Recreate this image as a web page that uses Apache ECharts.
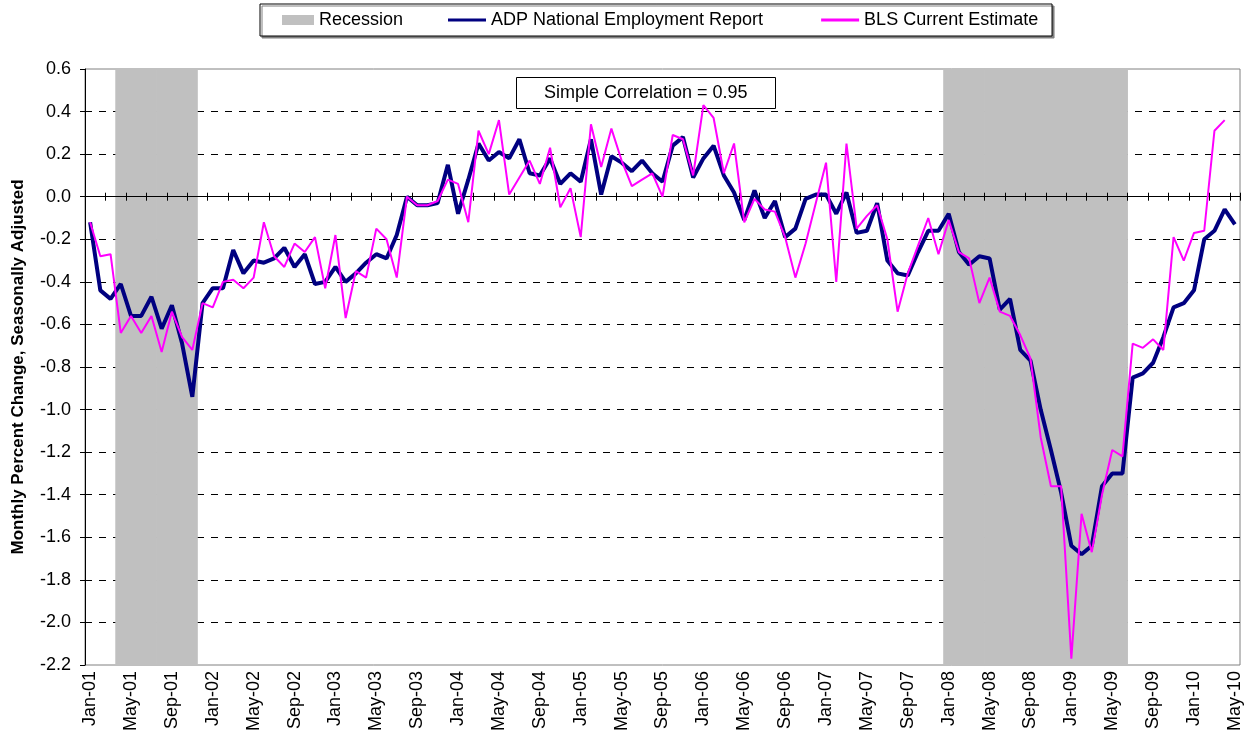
<!DOCTYPE html>
<html lang="en">
<head>
  <meta charset="utf-8">
  <title>ADP vs BLS employment</title>
  <script src="https://cdn.jsdelivr.net/npm/echarts@6.0.0/dist/echarts.min.js"></script>
  <style type="text/css">
    html, body { margin: 0; padding: 0; background: #fff; }
    #chart { width: 1249px; height: 746px; }
  </style>
</head>
<body>
<div id="chart"></div>
<script type="text/javascript">
// month labels Jan-01 .. May-10
var monthNames = ['Jan','Feb','Mar','Apr','May','Jun','Jul','Aug','Sep','Oct','Nov','Dec'];
var years = ['01','02','03','04','05','06','07','08','09','10'];
var lastLabel = 'May-10';

var months = [];
for (var y = 0; y < years.length; y++) {
  for (var m = 0; m < 12; m++) {
    months.push(monthNames[m] + '-' + years[y]);
    if (months[months.length - 1] === lastLabel) break;
  }
}

// recession periods (first and last month shaded)
var recessions = [['Apr-01', 'Nov-01'], ['Jan-08', 'Jun-09']];

// ADP National Employment Report, monthly % change
var adp = [
  -0.12, -0.44, -0.48, -0.41, -0.56, -0.56, -0.47, -0.62, -0.51, -0.69, -0.94, -0.50,
  -0.43, -0.43, -0.25, -0.36, -0.30, -0.31, -0.29, -0.24, -0.33, -0.27, -0.41, -0.40,
  -0.33, -0.40, -0.36, -0.31, -0.27, -0.29, -0.18, 0.00, -0.04, -0.04, -0.03, 0.15,
  -0.08, 0.08, 0.25, 0.17, 0.21, 0.18, 0.27, 0.11, 0.10, 0.18, 0.06, 0.11,
  0.07, 0.27, 0.01, 0.19, 0.16, 0.12, 0.17, 0.11, 0.07, 0.24, 0.28, 0.09,
  0.18, 0.24, 0.10, 0.02, -0.11, 0.03, -0.10, -0.02, -0.19, -0.15, -0.01, 0.01,
  0.01, -0.08, 0.02, -0.17, -0.16, -0.03, -0.30, -0.36, -0.37, -0.26, -0.16, -0.16,
  -0.08, -0.26, -0.32, -0.28, -0.29, -0.53, -0.48, -0.72, -0.77, -1.00, -1.19, -1.39,
  -1.64, -1.68, -1.64, -1.36, -1.30, -1.30, -0.85, -0.83, -0.78, -0.66, -0.52, -0.50,
  -0.44, -0.20, -0.16, -0.06, -0.13
];

// BLS Current Estimate, monthly % change (ends Apr-10)
var bls = [
  -0.12, -0.28, -0.27, -0.64, -0.56, -0.64, -0.56, -0.73, -0.54, -0.66, -0.72, -0.50,
  -0.52, -0.40, -0.39, -0.43, -0.38, -0.12, -0.28, -0.33, -0.22, -0.26, -0.19, -0.43,
  -0.18, -0.57, -0.35, -0.38, -0.15, -0.20, -0.38, 0.00, -0.04, -0.04, -0.02, 0.08,
  0.06, -0.12, 0.31, 0.20, 0.36, 0.01, 0.09, 0.17, 0.06, 0.23, -0.05, 0.04,
  -0.19, 0.34, 0.14, 0.32, 0.17, 0.05, 0.08, 0.11, 0.00, 0.29, 0.27, 0.10,
  0.43, 0.37, 0.11, 0.25, -0.12, -0.01, -0.06, -0.07, -0.19, -0.38, -0.22, -0.03,
  0.16, -0.40, 0.25, -0.15, -0.09, -0.04, -0.20, -0.54, -0.36, -0.23, -0.10, -0.27,
  -0.11, -0.26, -0.29, -0.50, -0.38, -0.54, -0.56, -0.65, -0.76, -1.13, -1.36, -1.36,
  -2.17, -1.49, -1.67, -1.40, -1.19, -1.22, -0.69, -0.71, -0.67, -0.72, -0.19, -0.30,
  -0.17, -0.16, 0.31, 0.36
];

var yMin = -2.2, yMax = 0.6, yStep = 0.2;

// shading bars: full height inside recessions, empty elsewhere
var recTop = [], recBottom = [];
for (var i = 0; i < months.length; i++) {
  var inRec = false;
  for (var r = 0; r < recessions.length; r++) {
    if (i >= months.indexOf(recessions[r][0]) && i <= months.indexOf(recessions[r][1])) inRec = true;
  }
  recTop.push(inRec ? yMax : '-');
  recBottom.push(inRec ? yMin : '-');
}

var font = 'Liberation Sans, Arial, sans-serif';
var chart = echarts.init(document.getElementById('chart'));

var zeroAxis = function (pos) {
  return {
    type: 'category',
    data: months,
    position: pos,
    z: 5,
    axisLine: { onZero: true, onZeroAxisIndex: 0, lineStyle: { color: '#000', width: 1 } },
    axisTick: { show: true, interval: 1, length: 4, lineStyle: { color: '#000' } },
    axisLabel: { show: false },
    splitLine: { show: false }
  };
};

var recBar = function (vals) {
  return {
    name: 'Recession', type: 'bar', stack: 'rec', barWidth: 11, z: 1, silent: true,
    itemStyle: { color: '#c0c0c0', borderWidth: 0 },
    data: vals
  };
};

option = {
  animation: false,
  textStyle: { fontFamily: font },
  title: {
    text: 'Simple Correlation = 0.95',
    left: 516,
    top: 77,
    padding: [7, 28, 7, 28],
    borderColor: '#000',
    borderWidth: 1,
    backgroundColor: '#fff',
    z: 1,
    textStyle: { fontSize: 18, fontWeight: 'normal', color: '#000', fontFamily: font }
  },
  legend: [
    {
      // framed box, carries the Recession swatch
      left: 260,
      top: 4,
      padding: [7, 649, 7, 22],
      itemWidth: 32,
      itemHeight: 10,
      borderColor: '#000',
      borderWidth: 1,
      backgroundColor: '#fff',
      shadowColor: '#808080',
      shadowOffsetX: 2,
      shadowOffsetY: 2,
      shadowBlur: 0,
      selectedMode: false,
      textStyle: { fontSize: 18, color: '#000', fontFamily: font },
      data: [{ name: 'Recession', icon: 'rect' }]
    },
    {
      left: 448,
      top: 4,
      padding: [7, 0, 7, 0],
      itemGap: 58,
      itemWidth: 38,
      itemHeight: 3,
      icon: 'rect',
      selectedMode: false,
      textStyle: { fontSize: 18, color: '#000', fontFamily: font },
      data: ['ADP National Employment Report', 'BLS Current Estimate']
    }
  ],
  grid: {
    left: 85,
    right: 9,
    top: 69,
    bottom: 81,
    containLabel: false,
    outerBoundsMode: 'none',
    show: true,
    borderColor: '#808080',
    borderWidth: 1,
    backgroundColor: '#fff'
  },
  xAxis: [
    {
      type: 'category',
      data: months,
      position: 'bottom',
      boundaryGap: true,
      axisLine: { show: false, onZero: false },
      axisTick: { show: false },
      axisLabel: { interval: 3, rotate: 90, fontSize: 18, color: '#000', margin: 6, fontFamily: font },
      splitLine: { show: false }
    },
    zeroAxis('top'),
    zeroAxis('bottom')
  ],
  yAxis: {
    type: 'value',
    min: yMin,
    max: yMax,
    interval: yStep,
    name: 'Monthly Percent Change, Seasonally Adjusted',
    nameLocation: 'middle',
    nameRotate: 90,
    nameGap: 58,
    nameTextStyle: { fontSize: 17, fontWeight: 'bold', color: '#000', fontFamily: font },
    axisLine: { show: true, lineStyle: { color: '#000', width: 1 } },
    axisTick: { show: true, length: 5, lineStyle: { color: '#000' } },
    axisLabel: {
      fontSize: 18, color: '#000', margin: 14, fontFamily: font,
      formatter: function (v) { return v.toFixed(1); }
    },
    splitLine: {
      show: true,
      showMinLine: false,
      showMaxLine: false,
      lineStyle: { color: '#000', width: 1, type: [7, 7] }
    }
  },
  series: [
    recBar(recTop),
    recBar(recBottom),
    {
      name: 'ADP National Employment Report', type: 'line', symbol: 'none', z: 6,
      color: '#000080',
      lineStyle: { color: '#000080', width: 4 },
      data: adp
    },
    {
      name: 'BLS Current Estimate', type: 'line', symbol: 'none', z: 7,
      color: '#ff00ff',
      lineStyle: { color: '#ff00ff', width: 2 },
      data: bls
    }
  ]
};

chart.setOption(option);
</script>
</body>
</html>
